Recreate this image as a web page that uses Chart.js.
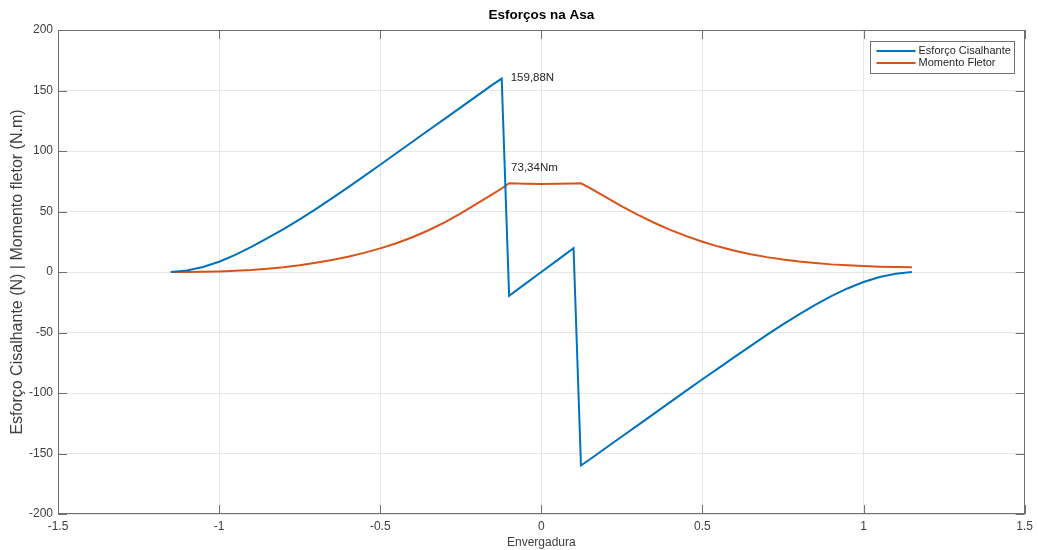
<!DOCTYPE html>
<html>
<head>
<meta charset="utf-8">
<title>Esforços na Asa</title>
<script src="https://cdn.jsdelivr.net/npm/chart.js@4/dist/chart.umd.min.js"></script>
<style>
  html, body { margin: 0; padding: 0; background: #fff; }
</style>
</head>
<body>
<canvas id="esforcos" width="1038" height="550"></canvas>
<script>
// posição ao longo da envergadura (m) e esforço cortante (N)
const spanShear = [-1.15, -1.1, -1.05, -1, -0.95, -0.9, -0.85, -0.8, -0.75, -0.7, -0.65, -0.6,
  -0.55, -0.5, -0.45, -0.4, -0.35, -0.3, -0.25, -0.2, -0.15, -0.123, -0.1, -0.05, 0, 0.05, 0.1,
  0.123, 0.15, 0.2, 0.25, 0.3, 0.35, 0.4, 0.45, 0.5, 0.55, 0.6, 0.65, 0.7, 0.75, 0.8, 0.85, 0.9,
  0.95, 1, 1.05, 1.1, 1.15];
const shear = [0, 1.3, 4.1, 8.5, 14.2, 20.8, 28, 35.5, 43.5, 52, 60.8, 69.9,
  79.2, 88.6, 98.1, 107.6, 117.1, 126.6, 136.1, 145.6, 155.1, 159.88, -19.6, -9.8, 0, 9.8, 19.6,
  -159.88, -155, -145.5, -136, -126.5, -117, -107.5, -98, -88.6, -79.5, -70.2, -61, -52, -43.3, -35, -27.2, -20,
  -13.6, -8.3, -4.2, -1.4, 0];

// momento fletor (N.m)
const spanMoment = [-1.15, -1.1, -1.05, -1, -0.95, -0.9, -0.85, -0.8, -0.75, -0.7, -0.65, -0.6,
  -0.55, -0.5, -0.45, -0.4, -0.35, -0.3, -0.25, -0.2, -0.15, -0.123, -0.1, -0.05, 0, 0.05, 0.1,
  0.123, 0.15, 0.2, 0.25, 0.3, 0.35, 0.4, 0.45, 0.5, 0.55, 0.6, 0.65, 0.7, 0.75, 0.8, 0.85, 0.9,
  0.95, 1, 1.05, 1.1, 1.15];
const moment = [0, 0.05, 0.2, 0.5, 1, 1.7, 2.7, 4, 5.6, 7.6, 9.9, 12.6,
  15.8, 19.5, 23.8, 28.7, 34.5, 41, 48.5, 56.5, 64.5, 69, 73.34, 73, 72.8, 72.9, 73.2,
  73.3, 69.5, 61.8, 54.3, 47.2, 40.7, 34.8, 29.6, 25, 21, 17.6, 14.7, 12.3, 10.3, 8.7, 7.4, 6.3,
  5.5, 4.9, 4.4, 4.1, 4];

const seriesNames = ['Esforço Cisalhante', 'Momento Fletor'];
const seriesColors = ['#0072BD', '#D95319'];
const xTicks = [-1.5, -1, -0.5, 0, 0.5, 1, 1.5];
const yTicks = [-200, -150, -100, -50, 0, 50, 100, 150, 200];

const FONT = '"Liberation Sans", Arial, sans-serif';
const TEXT = '#404040';

const toPoints = (xs, ys) => xs.map((x, i) => ({ x, y: ys[i] }));

// caixa dos eixos com as marcas para dentro (estilo MATLAB)
const axesBox = {
  id: 'axesBox',
  afterDatasetsDraw(chart) {
    const { ctx, chartArea: a, scales: { x, y } } = chart;
    const len = 9;
    ctx.save();
    ctx.strokeStyle = '#6f6f6f';
    ctx.lineWidth = 1;
    ctx.beginPath();
    xTicks.forEach(v => {
      const px = Math.round(x.getPixelForValue(v)) + 0.5;
      ctx.moveTo(px, a.bottom); ctx.lineTo(px, a.bottom - len);
      ctx.moveTo(px, a.top); ctx.lineTo(px, a.top + len);
    });
    yTicks.forEach(v => {
      const py = Math.round(y.getPixelForValue(v)) + 0.5;
      ctx.moveTo(a.left, py); ctx.lineTo(a.left + len, py);
      ctx.moveTo(a.right, py); ctx.lineTo(a.right - len, py);
    });
    ctx.stroke();
    ctx.strokeRect(Math.round(a.left) + 0.5, Math.round(a.top) + 0.5,
      Math.round(a.width) - 1, Math.round(a.height) - 1);
    ctx.restore();
  }
};

// rótulos dos valores máximos
const peakLabels = {
  id: 'peakLabels',
  afterDatasetsDraw(chart) {
    const { ctx, scales: { x, y } } = chart;
    const fmt = v => v.toFixed(2).replace('.', ',');
    const sMax = Math.max(...shear);
    const sIdx = shear.indexOf(sMax);
    const mMax = Math.max(...moment);
    const mIdx = moment.indexOf(mMax);
    ctx.save();
    ctx.font = '11.5px ' + FONT;
    ctx.fillStyle = '#262626';
    ctx.textAlign = 'left';
    ctx.textBaseline = 'middle';
    ctx.fillText(fmt(sMax) + 'N', x.getPixelForValue(spanShear[sIdx]) + 9, y.getPixelForValue(sMax) - 1);
    ctx.fillText(fmt(mMax) + 'Nm', x.getPixelForValue(spanMoment[mIdx]) + 2, y.getPixelForValue(mMax) - 15);
    ctx.restore();
  }
};

// legenda com moldura no canto superior direito
const boxedLegend = {
  id: 'boxedLegend',
  afterDraw(chart) {
    const { ctx } = chart;
    const bx = 870.5, by = 41.5, bw = 144, bh = 32;
    ctx.save();
    ctx.fillStyle = '#fff';
    ctx.fillRect(bx, by, bw, bh);
    ctx.strokeStyle = '#6f6f6f';
    ctx.lineWidth = 1;
    ctx.strokeRect(bx, by, bw, bh);
    ctx.font = '11px ' + FONT;
    ctx.textBaseline = 'middle';
    ctx.textAlign = 'left';
    seriesNames.forEach((name, i) => {
      const ly = by + 9.5 + i * 12;
      ctx.strokeStyle = seriesColors[i];
      ctx.lineWidth = 2;
      ctx.beginPath();
      ctx.moveTo(bx + 6, ly);
      ctx.lineTo(bx + 45, ly);
      ctx.stroke();
      ctx.fillStyle = '#262626';
      ctx.fillText(name, bx + 48, ly);
    });
    ctx.restore();
  }
};

new Chart(document.getElementById('esforcos'), {
  type: 'scatter',
  data: {
    datasets: [
      {
        label: seriesNames[0],
        data: toPoints(spanShear, shear),
        borderColor: seriesColors[0],
        backgroundColor: seriesColors[0],
        borderWidth: 2,
        showLine: true,
        pointRadius: 0,
        tension: 0
      },
      {
        label: seriesNames[1],
        data: toPoints(spanMoment, moment),
        borderColor: seriesColors[1],
        backgroundColor: seriesColors[1],
        borderWidth: 2,
        showLine: true,
        pointRadius: 0,
        tension: 0
      }
    ]
  },
  options: {
    responsive: false,
    animation: false,
    devicePixelRatio: 1,
    layout: { padding: { left: 0, right: 12, top: 0, bottom: 0 } },
    plugins: {
      legend: { display: false },
      tooltip: { enabled: false },
      title: {
        display: true,
        fullSize: false,
        text: 'Esforços na Asa',
        color: '#000',
        font: { family: FONT, size: 13.5, weight: 'bold' },
        padding: { top: 7, bottom: 6.8 }
      }
    },
    scales: {
      x: {
        type: 'linear',
        min: -1.5,
        max: 1.5,
        afterBuildTicks: s => { s.ticks = xTicks.map(v => ({ value: v })); },
        afterFit: s => { s.height = 36; },
        grid: { color: '#e6e6e6', drawTicks: false },
        border: { display: false },
        ticks: {
          padding: 5,
          color: TEXT,
          font: { family: FONT, size: 12 },
          maxRotation: 0,
          callback: v => String(v)
        },
        title: {
          display: true,
          text: 'Envergadura',
          color: TEXT,
          font: { family: FONT, size: 12 },
          padding: { top: 0, bottom: 0 }
        }
      },
      y: {
        type: 'linear',
        min: -200,
        max: 200,
        afterBuildTicks: s => { s.ticks = yTicks.map(v => ({ value: v })); },
        afterFit: s => { s.width = 58; },
        grid: { color: '#e6e6e6', drawTicks: false },
        border: { display: false },
        ticks: {
          padding: 5,
          color: TEXT,
          font: { family: FONT, size: 12 },
          callback: v => String(v)
        },
        title: {
          display: true,
          text: 'Esforço Cisalhante (N) | Momento fletor (N.m)',
          color: TEXT,
          font: { family: FONT, size: 16 },
          padding: { top: 8, bottom: 0 }
        }
      }
    }
  },
  plugins: [axesBox, peakLabels, boxedLegend]
});
</script>
</body>
</html>
